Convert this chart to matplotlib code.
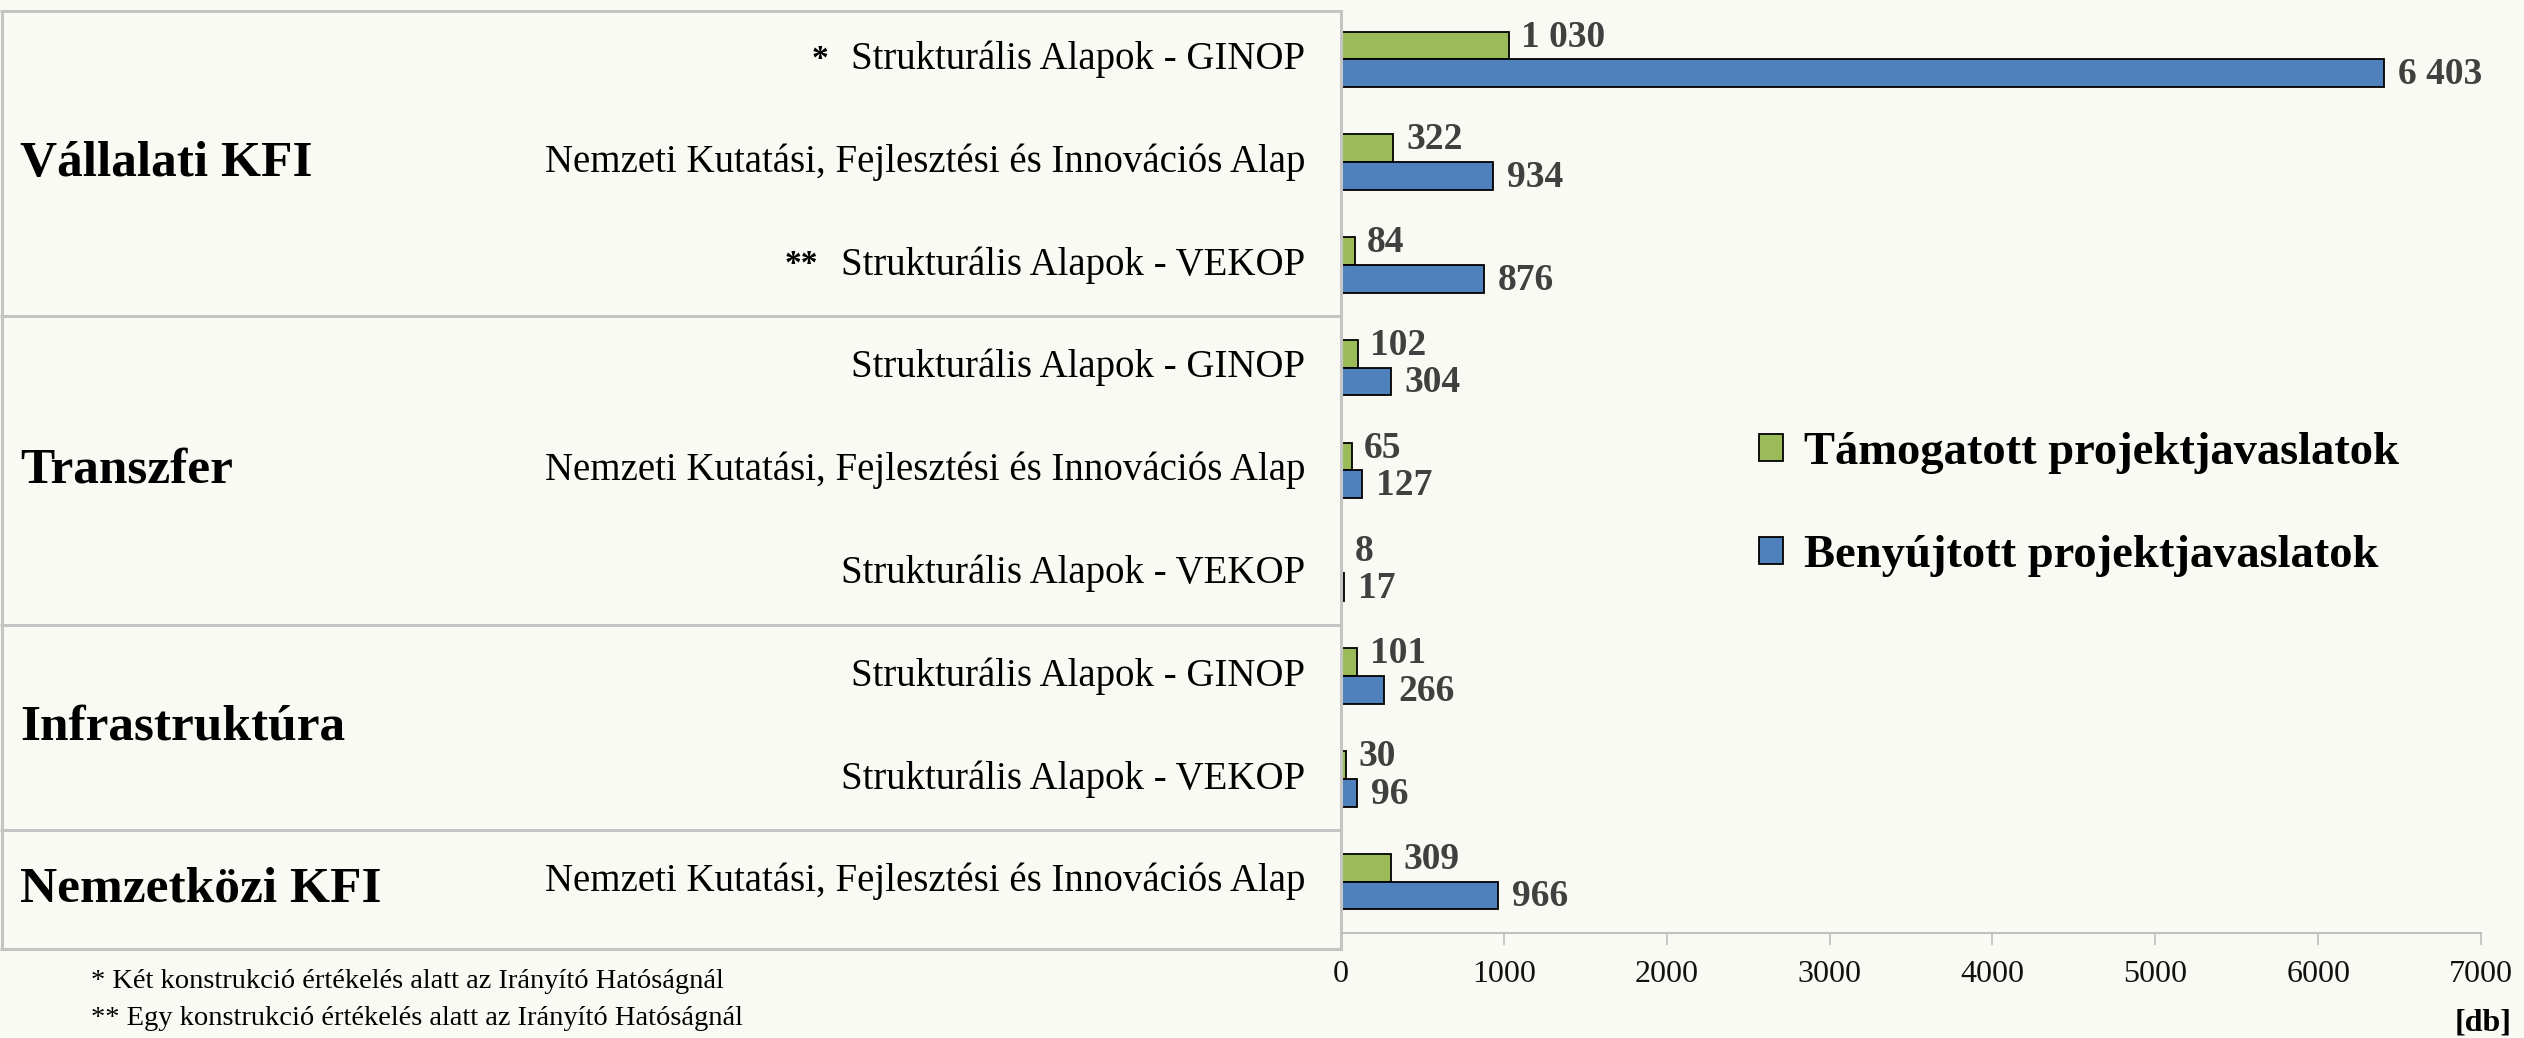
import numpy as np
import matplotlib
matplotlib.use('Agg')
import matplotlib.pyplot as plt
from matplotlib.transforms import blended_transform_factory, ScaledTranslation

plt.rcParams['font.family'] = ['Liberation Serif', 'DejaVu Serif']

# adatok
groups = ['Vállalati KFI', 'Transzfer', 'Infrastruktúra', 'Nemzetközi KFI']
group_sizes = [3, 3, 2, 1]
nkfi = 'Nemzeti Kutatási, Fejlesztési és Innovációs Alap'
programs = ['Strukturális Alapok - GINOP', nkfi, 'Strukturális Alapok - VEKOP',
            'Strukturális Alapok - GINOP', nkfi, 'Strukturális Alapok - VEKOP',
            'Strukturális Alapok - GINOP', 'Strukturális Alapok - VEKOP',
            nkfi]
marks = ['*', '', '**', '', '', '', '', '', '']
supported = [1030, 322, 84, 102, 65, 8, 101, 30, 309]
submitted = [6403, 934, 876, 304, 127, 17, 266, 96, 966]
series_names = ['Támogatott projektjavaslatok', 'Benyújtott projektjavaslatok']
x_ticks = [0, 1000, 2000, 3000, 4000, 5000, 6000, 7000]
unit = '[db]'
footnotes = ['* Két konstrukció értékelés alatt az Irányító Hatóságnál',
             '** Egy konstrukció értékelés alatt az Irányító Hatóságnál']

bg = '#FAFAF5'
green = '#9BBB59'
blue = '#4F81BD'
grey = '#C4C4C4'

fig = plt.figure(figsize=(25.24, 10.38), dpi=100, facecolor=bg)
ax_left = 0.5313
ax = fig.add_axes([ax_left, 0.1012, 0.4517, 0.8911])
ax.set_facecolor(bg)

y = np.arange(len(programs))
h = 0.27
ax.barh(y - h / 2, supported, height=h, color=green, edgecolor='black', lw=1.3,
        label=series_names[0])
ax.barh(y + h / 2, submitted, height=h, color=blue, edgecolor='black', lw=1.3,
        label=series_names[1])

def fmt(v):
    return f'{v:,}'.replace(',', ' ')

for yi, v in zip(y, supported):
    ax.annotate(fmt(v), (v, yi - h / 2), xytext=(9, 6), textcoords='offset points',
                ha='left', va='center', fontsize=27, fontweight='bold', color='#404040')
for yi, v in zip(y, submitted):
    ax.annotate(fmt(v), (v, yi + h / 2), xytext=(10, -1), textcoords='offset points',
                ha='left', va='center', fontsize=27, fontweight='bold', color='#404040')

ax.set_xlim(0, 7000)
ax.set_ylim(len(programs) - 0.5, -0.5)
ax.set_yticks([])
ax.set_xticks(x_ticks)
ax.set_xticklabels([str(t) for t in x_ticks], fontsize=23, color='#111111')
ax.tick_params(axis='x', direction='out', length=8.6, width=1.2, color='#BFBFBF', pad=11)
for s in ['left', 'top', 'right']:
    ax.spines[s].set_visible(False)
ax.spines['bottom'].set_color('#BFBFBF')
ax.spines['bottom'].set_linewidth(1.5)

# bal oldali táblázat
trans = blended_transform_factory(fig.transFigure, ax.transData)
box_top, box_bottom = -0.47, 8.66
edges = [box_top] + list(np.cumsum(group_sizes)[:-1] - 0.5) + [box_bottom]
for e in edges:
    ax.plot([0, ax_left], [e, e], transform=trans, color=grey, lw=2.2,
            clip_on=False, solid_capstyle='butt')
ax.plot([0.0008, 0.0008], [box_top, box_bottom], transform=trans, color=grey,
        lw=2.2, clip_on=False)
ax.plot([0, 0], [box_top, box_bottom], color=grey, lw=2.2, clip_on=False)

for g, top, bot in zip(groups, edges[:-1], edges[1:]):
    ax.text(0.008, (top + bot) / 2, g, transform=trans, ha='left', va='center',
            fontsize=37, fontweight='bold')

lab_tr = ax.get_yaxis_transform() + ScaledTranslation(-26 / 72, 0, fig.dpi_scale_trans)
for yi, p, m in zip(y, programs, marks):
    t = ax.text(0, yi, p, transform=lab_tr, ha='right', va='center', fontsize=28)
    if m:
        ax.annotate(m, xy=(0, 0.5), xycoords=t, xytext=(-16, 0),
                    textcoords='offset points', ha='right', va='center',
                    fontsize=24, fontweight='bold')

leg = ax.legend(loc='center left', bbox_to_anchor=(0.697, 0.514),
                bbox_transform=fig.transFigure, frameon=False, fontsize=33.5,
                handlelength=0.52, handleheight=0.52, handletextpad=0.45,
                labelspacing=1.3, borderpad=0, borderaxespad=0)
for txt in leg.get_texts():
    txt.set_fontweight('bold')

fig.text(0.995, 0.0145, unit, ha='right', va='center', fontsize=23, fontweight='bold')
fig.text(0.036, 0.054, footnotes[0], ha='left', va='center', fontsize=20.5)
fig.text(0.036, 0.019, footnotes[1], ha='left', va='center', fontsize=20.5)

fig.savefig('out.png', dpi=100, facecolor=bg)
